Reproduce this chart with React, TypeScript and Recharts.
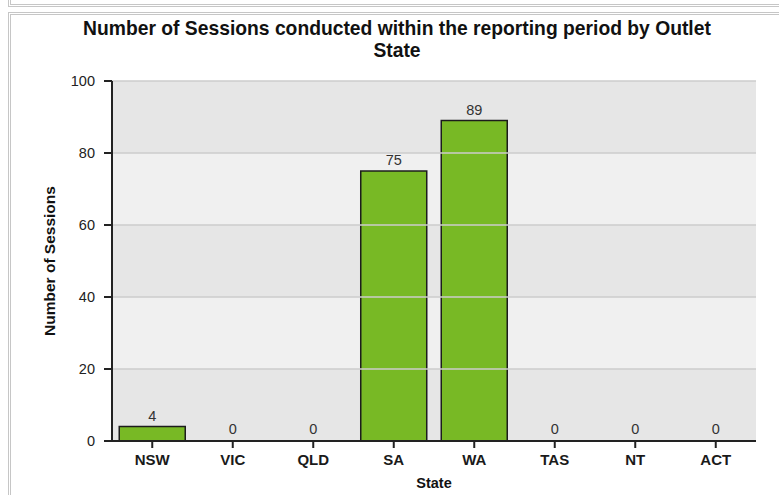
import React from 'react';
import { BarChart, Bar, XAxis, YAxis, ReferenceArea, ReferenceLine, LabelList, Cell } from 'recharts';

const states = ['NSW', 'VIC', 'QLD', 'SA', 'WA', 'TAS', 'NT', 'ACT'];
const sessions = [4, 0, 0, 75, 89, 0, 0, 0];
const yTicks = [0, 20, 40, 60, 80, 100];
const titleLines = ['Number of Sessions conducted within the reporting period by Outlet', 'State'];

const data = states.map((s, i) => ({ state: s, value: sessions[i] }));
const FONT = '"Liberation Sans", Arial, sans-serif';

const YTitle = (props: any) => {
  const vb = props.viewBox || { x: 0, y: 0, width: 0, height: 0 };
  const cx = vb.x + 49;
  const cy = vb.y + vb.height / 2;
  return (
    <text
      x={cx}
      y={cy}
      transform={`rotate(-90 ${cx} ${cy})`}
      textAnchor="middle"
      dominantBaseline="central"
      fontFamily={FONT}
      fontSize={15.5}
      fontWeight="bold"
      fill="#111"
    >
      Number of Sessions
    </text>
  );
};

export default function App() {
  const bands = yTicks.slice(0, -1).map((v, i) => ({ y1: v, y2: yTicks[i + 1], idx: i }));
  return (
    <div style={{ position: 'absolute', left: 0, top: 0, width: 779, height: 495, overflow: 'hidden', background: '#fff' }}>
      <div style={{ position: 'absolute', left: 8, top: -20, width: 800, height: 27, boxSizing: 'border-box', border: '3px double #c6c6c6' }} />
      <div style={{ position: 'absolute', left: 8, top: 12, width: 800, height: 520, boxSizing: 'border-box', border: '3px double #c6c6c6' }} />
      {titleLines.map((t, i) => (
        <div
          key={i}
          style={{
            position: 'absolute',
            left: 0,
            width: 794,
            top: 18 + i * 22,
            textAlign: 'center',
            fontFamily: FONT,
            fontWeight: 'bold',
            fontSize: 19.3,
            lineHeight: '22px',
            color: '#111',
            whiteSpace: 'nowrap',
          }}
        >
          {t}
        </div>
      ))}
      <div style={{ position: 'absolute', left: 0, top: 0 }}>
        <BarChart
          width={779}
          height={495}
          data={data}
          margin={{ top: 81, right: 23, bottom: 0, left: 0 }}
          barCategoryGap="9%"
        >
          {bands.map((b) => (
            <ReferenceArea
              key={'b' + b.idx}
              y1={b.y1}
              y2={b.y2}
              fill={b.idx % 2 === 0 ? '#e6e6e6' : '#f0f0f0'}
              fillOpacity={1}
              stroke="none"
              ifOverflow="visible"
            />
          ))}
          {yTicks.map((v) => (
            <ReferenceLine key={'g' + v} y={v} stroke="#cdcdcd" strokeWidth={1.5} ifOverflow="visible" />
          ))}
          <XAxis
            dataKey="state"
            height={54}
            interval={0}
            tickSize={7}
            tickMargin={6}
            axisLine={{ stroke: '#222', strokeWidth: 2 }}
            tickLine={{ stroke: '#222', strokeWidth: 2 }}
            tick={{ fill: '#1a1a1a', fontSize: 15, fontWeight: 'bold', fontFamily: FONT }}
            label={{ value: 'State', position: 'insideBottom', offset: 7, fill: '#111', fontSize: 14.5, fontWeight: 'bold', fontFamily: FONT }}
          />
          <YAxis
            width={112}
            domain={[0, 100]}
            ticks={yTicks}
            interval={0}
            tickSize={8}
            tickMargin={9}
            axisLine={{ stroke: '#222', strokeWidth: 2 }}
            tickLine={{ stroke: '#222', strokeWidth: 2 }}
            tick={{ fill: '#222', fontSize: 14.5, fontFamily: FONT }}
            label={{ content: YTitle }}
          />
          <Bar dataKey="value" fill="#78b925" stroke="#1c1c1c" strokeWidth={1.5} minPointSize={1} isAnimationActive={false}>
            {data.map((d, i) => (
              <Cell key={i} fill={d.value === 0 ? 'none' : '#78b925'} stroke={d.value === 0 ? 'none' : '#1c1c1c'} />
            ))}
            <LabelList dataKey="value" position="top" offset={6} fill="#333" fontSize={14.5} fontFamily={FONT} />
          </Bar>
        </BarChart>
      </div>
    </div>
  );
}
